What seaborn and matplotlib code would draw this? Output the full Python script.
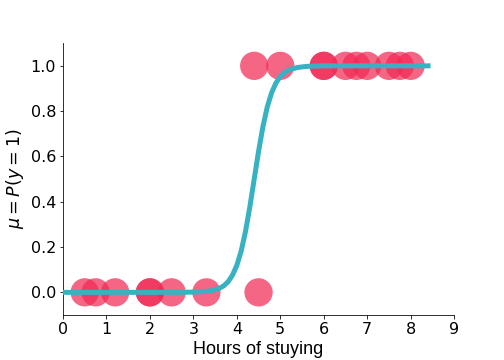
import numpy as np
import pandas as pd
import matplotlib
matplotlib.use('Agg')
import matplotlib.pyplot as plt
import seaborn as sns

# observed points: hours studied and pass/fail
hours = [0.5, 0.75, 1.2, 2.0, 2.0, 2.5, 3.3, 4.5,
         4.4, 5.0, 6.0, 6.0, 6.5, 6.75, 7.0, 7.5, 7.75, 8.0]
passed = [0, 0, 0, 0, 0, 0, 0, 0,
          1, 1, 1, 1, 1, 1, 1, 1, 1, 1]

# fitted curve
curve_x = [0, 1, 2, 2.5, 3, 3.2, 3.4, 3.6, 3.7, 3.8, 3.9, 4.0, 4.1, 4.2, 4.3,
           4.4, 4.5, 4.6, 4.7, 4.8, 4.9, 5.0, 5.1, 5.2, 5.4, 5.6, 5.8, 6, 7, 8, 8.4]
curve_y = [0, 0, 0, 0, 0.001, 0.0025, 0.0067, 0.018, 0.029, 0.047, 0.076, 0.119,
           0.182, 0.269, 0.378, 0.5, 0.622, 0.731, 0.818, 0.881, 0.924, 0.953,
           0.971, 0.982, 0.993, 0.9975, 0.999, 1.0, 1.0, 1.0, 1.0]

df = pd.DataFrame({'hours': hours, 'passed': passed})
curve = pd.DataFrame({'x': curve_x, 'y': curve_y})

fig = plt.figure(figsize=(7, 5), dpi=72)
ax = fig.add_axes([0.125, 0.125, 0.776, 0.755])

sns.scatterplot(data=df, x='hours', y='passed', s=800, color='#f02b55',
                alpha=0.72, edgecolor='none', ax=ax, zorder=2)
sns.lineplot(data=curve, x='x', y='y', color='#36b2c2', lw=5, sort=False,
             ax=ax, zorder=3)

ax.set_xlim(0, 9)
ax.set_ylim(-0.1, 1.1)
ax.set_xticks(range(10))
ax.set_yticks([0.0, 0.2, 0.4, 0.6, 0.8, 1.0])
ax.tick_params(labelsize=16)
ax.set_xlabel('Hours of stuying', fontsize=18, family='Liberation Sans')
ax.set_ylabel(r'$\mu = P(y=1)$', fontsize=17.5)
sns.despine(ax=ax)

fig.savefig('out.png', dpi=72)
